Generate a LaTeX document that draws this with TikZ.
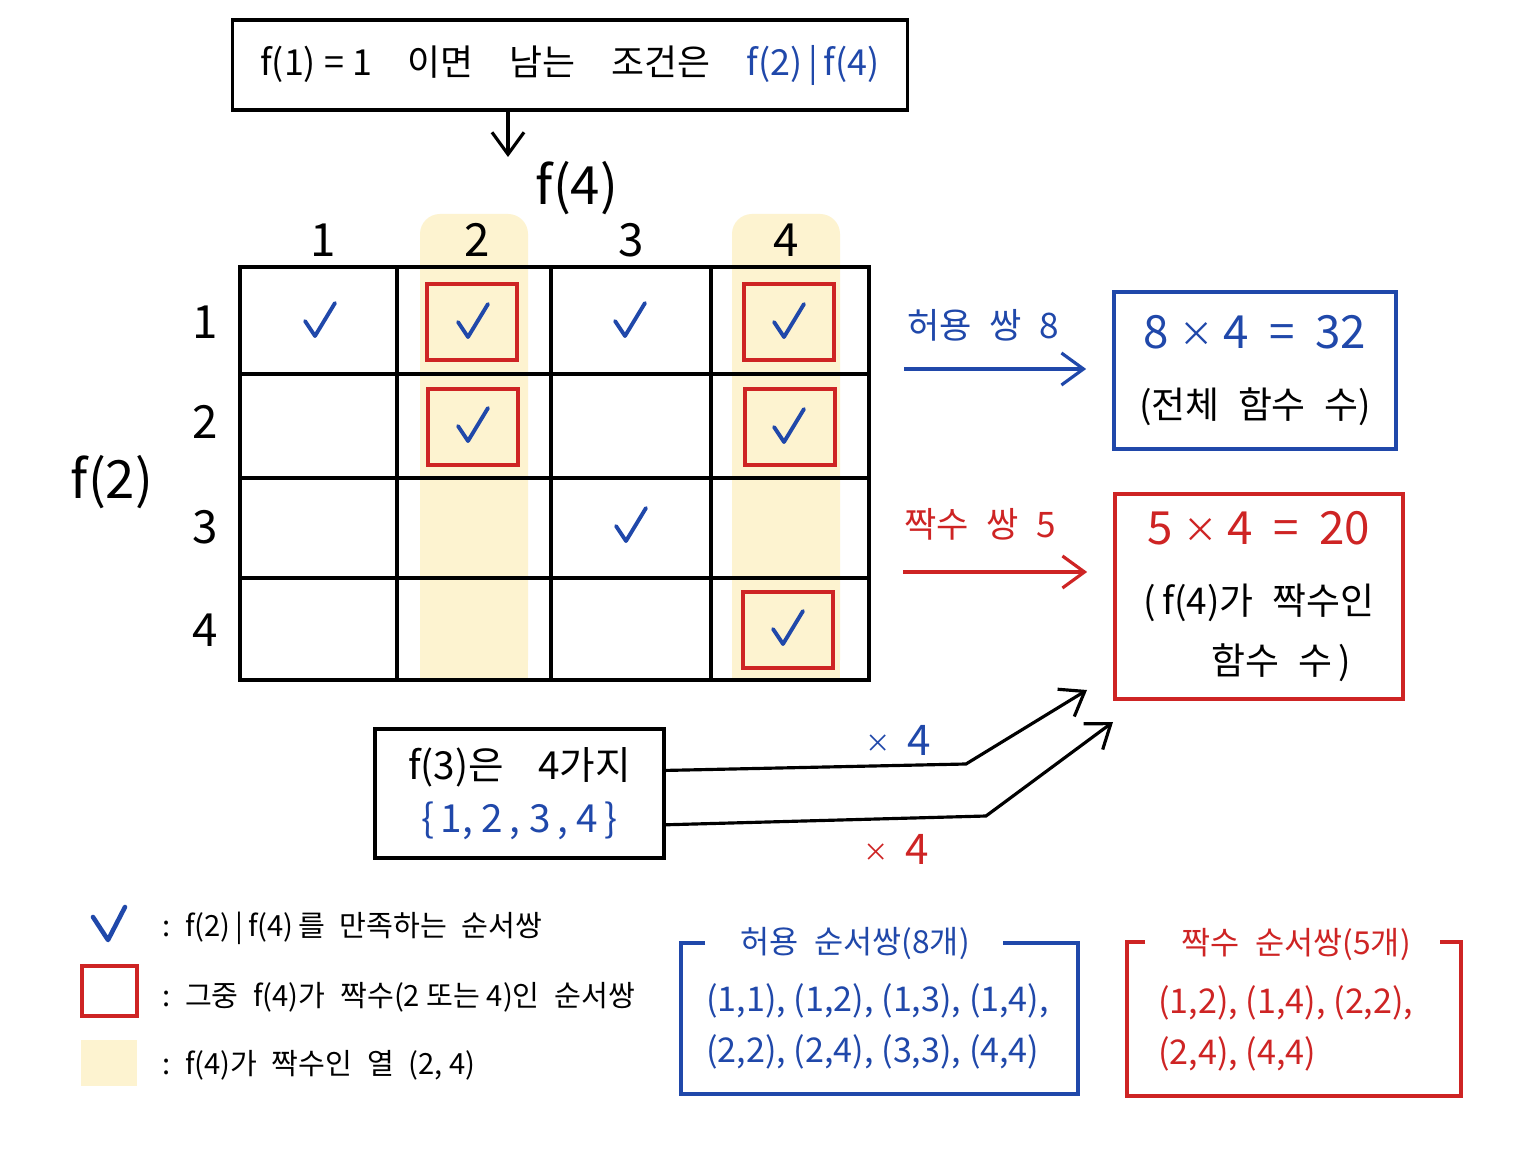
\documentclass[tikz,border=0pt]{standalone}
\usepackage{fontspec}
\setmainfont{Noto Sans CJK KR}
\usetikzlibrary{positioning, calc, arrows.meta}

\definecolor{penblue}{RGB}{32,72,170}
\definecolor{penred}{RGB}{206,36,36}
\definecolor{colhl}{RGB}{253,243,208}

% a small multiplication sign (the CJK one is full width)
\newcommand{\timesmark}{\raisebox{0.12ex}{\scalebox{0.6}{×}}}
\newcommand{\bigtimesmark}{\raisebox{0.08ex}{\scalebox{0.75}{×}}}

\begin{document}
\begin{tikzpicture}[x=0.01cm, y=-0.01cm,
    % Boxes, pens and text sizes (1 unit = 1 pixel of the sketch)
    framebox/.style={
      rectangle, draw=black, line width=1pt,
      align=center, inner sep=0pt
    },
    resultbox/.style={
      rectangle, line width=1pt, align=center, inner sep=0pt,
      font=\fontsize{10.5}{17}\selectfont
    },
    evenmark/.style={
      rectangle, draw=penred, line width=1.2pt,
      minimum width=0.9cm, minimum height=0.76cm
    },
    checkpen/.style={draw=penblue, line width=1.1pt, line cap=round, line join=round},
    gridline/.style={draw=black, line width=0.9pt},
    axislabel/.style={font=\fontsize{13}{16}\selectfont},
    notetext/.style={font=\fontsize{10}{13}\selectfont},
    keytext/.style={anchor=west, font=\fontsize{8.3}{11}\selectfont},
    listtext/.style={anchor=west, align=left, font=\fontsize{9.7}{14.5}\selectfont},
    arrow/.style={line width=0.9pt, -{Straight Barb[length=2.2mm, width=3.2mm]}}
]

\useasboundingbox (0,0) rectangle (1536,1152);
\fill[white] (0,0) rectangle (1536,1152);

% Top condition box
\node[framebox, minimum width=6.75cm, minimum height=0.9cm,
      font=\fontsize{10.2}{13}\selectfont] (cond) at (570,65)
  {f(1) = 1\quad 이면\quad 남는\quad 조건은\quad \textcolor{penblue}{f(2)\,|\,f(4)}};
\coordinate (condtip) at (508,157);
\draw[arrow] (cond.south -| condtip) -- (condtip);

% Highlighted columns (f(4) even)
\foreach \hx in {420,732} {
  \fill[colhl, rounded corners=0.2cm] (\hx,214) rectangle ++(108,466);
  \fill[colhl] (\hx,400) rectangle ++(108,280);
}

% Grid
\draw[gridline] (240,267) rectangle (869,680);
\foreach \gx in {397,551,711} \draw[gridline] (\gx,267) -- (\gx,680);
\foreach \gy in {374,478,578} \draw[gridline] (240,\gy) -- (869,\gy);

% Axis labels
\node[font=\fontsize{15}{18}\selectfont] (f4lab) at (577,188) {f(4)};
\foreach \n/\hx in {1/323,2/477,3/631,4/786}
  \node[axislabel] (col\n) at (\hx,240) {\n};
\foreach \n/\hy in {1/322,2/422,3/527,4/630}
  \node[axislabel] (row\n) at (205,\hy) {\n};
\node[font=\fontsize{15}{18}\selectfont] (f2lab) at (112,482) {f(2)};

% Check marks f(2) | f(4)
\foreach \cx/\cy in {320/320, 473/321, 630/320, 789/321, 473/425, 789/426, 631/525, 788/628}
  \draw[checkpen] (\cx-15,\cy+1) -- ++(10,15) -- ++(20,-33);

% Red marks: f(4) even
\foreach \rx/\ry/\rn in {472/322/a, 789/322/b, 473/427/c, 790/427/d, 788/630/e}
  \node[evenmark] (even\rn) at (\rx,\ry) {};

% Result boxes
\node[resultbox, draw=penblue, minimum width=2.82cm, minimum height=1.57cm]
  (total) at (1255,370.5)
  {\textcolor{penblue}{\fontsize{13}{17}\selectfont 8\ \bigtimesmark\ 4\ \ =\ \ 32}\\[3pt]
   (전체\enspace 함수\enspace 수)};
\node[resultbox, draw=penred, minimum width=2.88cm, minimum height=2.05cm]
  (evenbox) at (1259,596.5)
  {\textcolor{penred}{\fontsize{13}{17}\selectfont 5\ \bigtimesmark\ 4\ \ =\ \ 20}\\[3pt]
   (\,f(4)가\enspace 짝수인\\ \hspace{1.2em}함수\enspace 수\,)};

% Arrows into the result boxes
\coordinate (allowstart) at (904,369);
\coordinate (evenstart) at (903,572);
\draw[arrow, penblue] (allowstart) -- ([xshift=-0.26cm]total.west |- allowstart);
\draw[arrow, penred] (evenstart) -- ([xshift=-0.26cm]evenbox.west |- evenstart);
\node[notetext, text=penblue] (allowlab) at (983,325) {허용\enspace 쌍\enspace 8};
\node[notetext, text=penred] (evenlab) at (980,524) {짝수\enspace 쌍\enspace 5};

% f(3) box and its two connectors
\node[framebox, minimum width=2.89cm, minimum height=1.29cm,
      font=\fontsize{11}{15}\selectfont] (choice3) at (519.5,793.5)
  {f(3)은\enspace\, 4가지\\ \textcolor{penblue}{\{\,1,\ 2\,,\ 3\,,\ 4\,\}}};
\coordinate (bendA) at (966,764);
\coordinate (tipA) at (1087,690);
\coordinate (bendB) at (986,816);
\coordinate (tipB) at (1113,722);
\draw[arrow] ($(choice3.north east)!0.326!(choice3.south east)$) -- (bendA) -- (tipA);
\draw[arrow] ($(choice3.north east)!0.736!(choice3.south east)$) -- (bendB) -- (tipB);
\node[font=\fontsize{12}{14}\selectfont, text=penblue] (timesA) at (898,740) {\timesmark\, 4};
\node[font=\fontsize{12}{14}\selectfont, text=penred] (timesB) at (896,849) {\timesmark\, 4};

% Legend
\draw[checkpen, line width=1.3pt] (93,917) -- ++(15,23) -- ++(17,-33);
\node[rectangle, draw=penred, line width=1.1pt, minimum width=0.55cm, minimum height=0.5cm]
  (keyred) at (109.5,991) {};
\node[rectangle, fill=colhl, minimum width=0.56cm, minimum height=0.46cm]
  (keyhl) at (109,1063) {};
\node[keytext] (keychk) at (150,928) {:\enspace f(2)\,|\,f(4)\,를\enspace 만족하는\enspace 순서쌍};
\node[keytext] (keyredtxt) at (150,997) {:\enspace 그중\enspace f(4)가\enspace 짝수(2 또는 4)인\enspace 순서쌍};
\node[keytext] (keyhltxt) at (150,1065) {:\enspace f(4)가\enspace 짝수인\enspace 열\enspace (2,\ 4)};

% Lists of ordered pairs
\node[font=\fontsize{9}{12}\selectfont, text=penblue] (allowtitle) at (855,944) {허용\enspace 순서쌍(8개)};
\draw[penblue, line width=1pt] (705,943) -- (681,943) -- (681,1094) -- (1078,1094) -- (1078,943) -- (1003,943);
\node[listtext, text=penblue] (allowlist) at (694,1026)
  {(1,1), (1,2), (1,3), (1,4),\\(2,2), (2,4), (3,3), (4,4)};

\node[font=\fontsize{9}{12}\selectfont, text=penred] (eventitle) at (1296,945) {짝수\enspace 순서쌍(5개)};
\draw[penred, line width=1pt] (1145,942) -- (1127,942) -- (1127,1096) -- (1461,1096) -- (1461,942) -- (1440,942);
\node[listtext, text=penred] (evenlist) at (1146,1028)
  {(1,2), (1,4), (2,2),\\(2,4), (4,4)};

\end{tikzpicture}
\end{document}
